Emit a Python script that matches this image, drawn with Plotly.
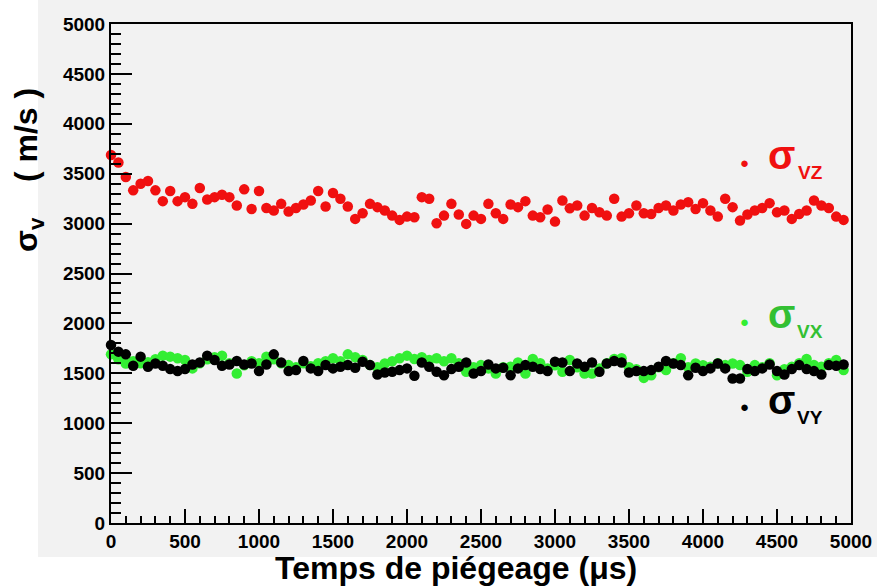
import plotly.graph_objects as go

# ---- data ----
time_us = list(range(0, 5000, 50))

sigma_vz = [3687, 3613, 3467, 3333, 3400, 3427, 3333, 3225, 3326, 3225,
            3265, 3198, 3356, 3242, 3265, 3289, 3265, 3181, 3343, 3147,
            3326, 3157, 3131, 3198, 3121, 3157, 3191, 3232, 3326, 3171,
            3306, 3249, 3171, 3047,
            3104, 3198, 3165, 3131, 3080, 3037, 3070, 3063, 3265, 3249,
            3003, 3080, 3198, 3091, 2997, 3080, 3047, 3198, 3104, 3047,
            3191, 3165, 3225, 3080, 3063, 3141, 3020, 3232, 3154, 3181,
            3080, 3157,
            3114, 3080, 3249, 3070, 3104, 3181, 3104, 3097, 3157, 3181,
            3131, 3191, 3215, 3147, 3205, 3131, 3070, 3249, 3165, 3030,
            3091, 3131, 3157, 3205, 3114, 3131, 3047, 3097, 3131, 3232,
            3181, 3157, 3070, 3037]

sigma_vx = [1690, 1640, 1599, 1620, 1600, 1610, 1640, 1677, 1667, 1650,
            1633, 1549, 1600, 1640, 1660, 1677, 1600, 1498, 1580, 1620,
            1600, 1667, 1640, 1600, 1582, 1560, 1600, 1570, 1600, 1620,
            1650, 1620, 1690, 1660,
            1633, 1582, 1560, 1599, 1620, 1650, 1677, 1643, 1660, 1633,
            1650, 1620, 1650, 1600, 1515, 1560, 1582, 1549, 1498, 1560,
            1565, 1609, 1498, 1643, 1600, 1549, 1580, 1515, 1633, 1560,
            1498, 1498,
            1549, 1600, 1643, 1650, 1560, 1540, 1454, 1481, 1560, 1532,
            1600, 1650, 1560, 1599, 1580, 1565, 1600, 1582, 1599, 1582,
            1515, 1582, 1560, 1600, 1481, 1540, 1565, 1600, 1643, 1582,
            1565, 1600, 1633, 1532]

sigma_vy = [1784, 1717, 1690, 1576, 1667, 1566, 1599, 1576, 1542, 1522,
            1542, 1589, 1609, 1677, 1633, 1576, 1589, 1623, 1589, 1599,
            1522, 1589, 1690, 1609, 1522, 1532, 1623, 1549, 1522, 1583,
            1549, 1566, 1583, 1556,
            1616, 1582, 1488, 1508, 1515, 1532, 1549, 1475, 1609, 1565,
            1515, 1481, 1542, 1565, 1609, 1498, 1522, 1589, 1549, 1555,
            1481, 1549, 1582, 1565, 1542, 1522, 1616, 1609, 1522, 1599,
            1565, 1609,
            1515, 1599, 1623, 1609, 1508, 1522, 1522, 1532, 1565, 1623,
            1599, 1582, 1481, 1555, 1522, 1549, 1599, 1549, 1448, 1448,
            1542, 1522, 1549, 1589, 1522, 1488, 1542, 1582, 1542, 1522,
            1488, 1582, 1576, 1589]

tick_vals = list(range(0, 5001, 500))
tick_text = [str(v) for v in tick_vals]

RED = "#f01010"
GREEN = "#33ee33"
GREEN_TXT = "#33c033"
BLACK = "#000000"
BG = "#f2f2f2"
FONT = "Liberation Sans, Arial, Helvetica, sans-serif"

fig = go.Figure()
for vals, col in [(sigma_vz, RED), (sigma_vx, GREEN), (sigma_vy, BLACK)]:
    fig.add_trace(go.Scatter(x=time_us, y=vals, mode="markers",
                             marker=dict(color=col, size=10.5, line=dict(width=0)),
                             cliponaxis=False, showlegend=False, hoverinfo="skip"))

axis_common = dict(
    showgrid=False, zeroline=False, showline=True, linecolor="black", linewidth=2,
    mirror=True, ticks="inside", tickcolor="black", tickwidth=1.5,
    tickfont=dict(family=FONT, size=19, color="black", weight="bold"),
    tickvals=tick_vals, ticktext=tick_text, range=[0, 5000], automargin=False,
)
fig.update_xaxes(**axis_common, ticklen=14,
                 minor=dict(dtick=100, ticklen=7, ticks="inside", tickcolor="black", tickwidth=1.5))
fig.update_yaxes(**axis_common, ticklen=21,
                 minor=dict(dtick=100, ticklen=10, ticks="inside", tickcolor="black", tickwidth=1.5))

L, R, T, B = 111, 26, 24, 64
W, H = 877, 587
pw, ph = W - L - R, H - T - B

def px(xp):
    return (xp - L) / pw

def py(yp):
    return (H - B - yp) / ph

fig.add_shape(type="rect", xref="paper", yref="paper", layer="below",
              x0=px(38), x1=px(877), y0=py(557), y1=py(0),
              fillcolor=BG, line=dict(width=0))

ann = []
ann.append(dict(text="<b>Temps de piégeage (μs)</b>", x=px(456), y=py(587), yanchor="bottom",
                borderpad=0, font=dict(family=FONT, size=32, color="black")))
ann.append(dict(text="<b>σ<sub>v</sub>    ( m/s )</b>", x=px(29), y=py(170), textangle=-90,
                font=dict(family=FONT, size=32, color="black")))

for ydot, ysig, ysub, sub, col, tcol in [(163, 159, 173, "VZ", RED, RED),
                                         (322, 318, 331, "VX", GREEN, GREEN_TXT),
                                         (406, 404, 417, "VY", BLACK, BLACK)]:
    ann.append(dict(text="●", x=px(744), y=py(ydot), font=dict(family=FONT, size=15, color=col)))
    ann.append(dict(text="<b>σ</b>", x=px(781), y=py(ysig - 4), font=dict(family=FONT, size=40, color=tcol)))
    ann.append(dict(text="<b>" + sub + "</b>", x=px(810), y=py(ysub), font=dict(family=FONT, size=19, color=tcol)))

for a in ann:
    a.setdefault("yanchor", "middle")
    a.update(xref="paper", yref="paper", showarrow=False, xanchor="center")
    fig.add_annotation(**a)

fig.update_layout(width=W, height=H, margin=dict(l=L, r=R, t=T, b=B, autoexpand=False),
                  autosize=False, paper_bgcolor="white", plot_bgcolor=BG)

fig.write_html("out.html",
               config={"displayModeBar": False, "responsive": False},
               post_script="document.documentElement.style.margin='0';"
                           "document.body.style.margin='0';document.body.style.overflow='hidden';")
